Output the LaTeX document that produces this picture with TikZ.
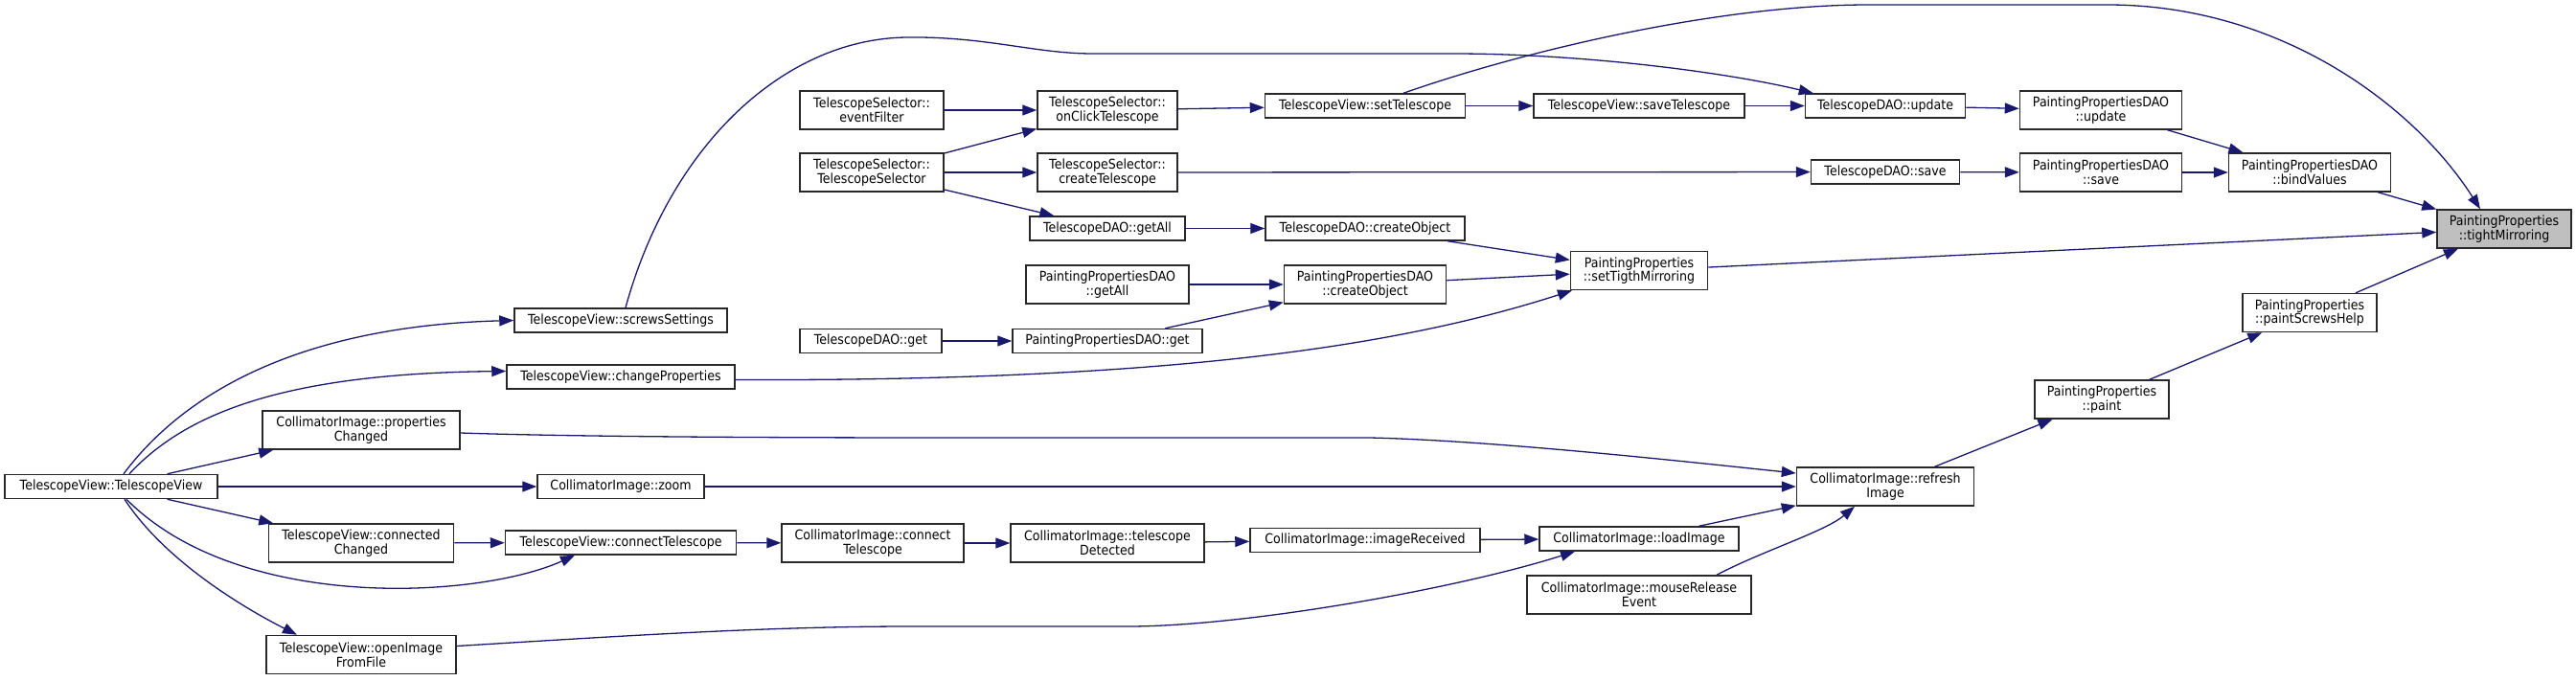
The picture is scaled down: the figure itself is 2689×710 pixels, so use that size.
\documentclass[tikz,border=0pt]{standalone}
\usepackage{fontspec}
\setmainfont{DejaVu Sans}[FakeStretch=0.9]
\usetikzlibrary{arrows.meta}
\definecolor{CallBlue}{RGB}{25,25,112}
\definecolor{FocusGray}{RGB}{191,191,191}
\definecolor{BoxLine}{RGB}{40,40,40}

\begin{document}
\begin{tikzpicture}[x=1pt,y=-1pt,
  fn/.style={draw=BoxLine,line width=1.5pt,fill=white,align=center,inner sep=2pt,
    minimum height=25pt,font=\fontsize{14}{14.7}\selectfont},
  call/.style={draw=CallBlue,line width=1.3pt,-{Triangle[length=15pt,width=11pt]}}]
  \useasboundingbox (0,0) rectangle (2689,710);

  % functions: name/x/y/width/height/label
  \foreach \n/\x/\y/\w/\h/\t in {
    tv/116/508/222/25/TelescopeView::TelescopeView,
    screws/648/334.5/222/25/TelescopeView::screwsSettings,
    chprop/648/393.5/238/25/TelescopeView::changeProperties,
    propch/377/449/206/40/CollimatorImage::properties\\Changed,
    zoom/648/508/174/25/CollimatorImage::zoom,
    connch/377/567/193/40/TelescopeView::connected\\Changed,
    conntv/648/566.5/241/25/TelescopeView::connectTelescope,
    openimg/377/683.5/198/40/TelescopeView::openImage\\FromFile,
    connci/911/567/190/40/CollimatorImage::connect\\Telescope,
    detected/1156/567/202/40/CollimatorImage::telescope\\Detected,
    imgrec/1425/564/240/25/CollimatorImage::imageReceived,
    loadimg/1711/562.5/208/25/CollimatorImage::loadImage,
    mouserel/1711/621/234/40/CollimatorImage::mouseRelease\\Event,
    refresh/1968/508/185/40/CollimatorImage::refresh\\Image,
    paint/2194/417/140/40/PaintingProperties\\::paint,
    screwshelp/2411/326.5/140/40/PaintingProperties\\::paintScrewsHelp,
    tsevent/910/115/150/40/TelescopeSelector::\\eventFilter,
    tsctor/910/180/150/40/TelescopeSelector::\\TelescopeSelector,
    onclick/1156/115/146/40/TelescopeSelector::\\onClickTelescope,
    create/1156/180/146/40/TelescopeSelector::\\createTelescope,
    settel/1425/110.5/209/25/TelescopeView::setTelescope,
    savetel/1711/110.5/220/25/TelescopeView::saveTelescope,
    tdgetall/1156/238.5/162/25/TelescopeDAO::getAll,
    tdcreate/1425/238.5/208/25/TelescopeDAO::createObject,
    ppgetall/1156/297/170/40/PaintingPropertiesDAO\\::getAll,
    ppcreate/1425/297/169/40/PaintingPropertiesDAO\\::createObject,
    settight/1711/282.5/143/40/PaintingProperties\\::setTigthMirroring,
    tdget/909/356/148/25/TelescopeDAO::get,
    ppget/1156/356/198/25/PaintingPropertiesDAO::get,
    tdupdate/1968/110.5/167/25/TelescopeDAO::update,
    ppupdate/2193/115/169/40/PaintingPropertiesDAO\\::update,
    tdsave/1968/179.5/155/25/TelescopeDAO::save,
    ppsave/2193/180/169/40/PaintingPropertiesDAO\\::save,
    bind/2411/180/169/40/PaintingPropertiesDAO\\::bindValues
  }{
    \node[fn,minimum width=\w pt,minimum height=\h pt] (\n) at (\x,\y) {\t};
  }
  \node[fn,fill=FocusGray,minimum width=140pt,minimum height=40pt] (tight) at (2614,239)
    {PaintingProperties\\::tightMirroring};

  % straight calls
  \foreach \a/\b in {tv/propch,tv/zoom,tv/connch,connch/conntv,conntv/connci,
    connci/detected,detected/imgrec,imgrec/loadimg,loadimg/refresh,zoom/refresh,
    refresh/paint,paint/screwshelp,screwshelp/tight,tsevent/onclick,tsctor/onclick,
    tsctor/create,tsctor/tdgetall,onclick/settel,settel/savetel,savetel/tdupdate,
    create/tdsave,tdgetall/tdcreate,tdcreate/settight,ppgetall/ppcreate,tdget/ppget,
    ppget/ppcreate,ppcreate/settight,settight/tight,tdupdate/ppupdate,tdsave/ppsave,
    ppupdate/bind,ppsave/bind,bind/tight}{
    \draw[call] (\a) -- (\b);
  }

  % curved calls
  \draw[call] ([xshift=13pt]tv.north) .. controls (200,400) and (330,340) .. (screws.west);
  \draw[call] ([xshift=19pt]tv.north) .. controls (195,430) and (300,390) .. ([yshift=6pt]chprop.west);
  \draw[call] ([xshift=14pt]tv.south) .. controls (175,590) and (265,640) .. ([xshift=-67pt]openimg.north);
  \draw[call] ([xshift=16pt]tv.south) .. controls (250,640) and (500,625) .. ([xshift=-48pt]conntv.south);
  \draw[call] ([yshift=9pt]openimg.east) .. controls (650,664) and (800,654) .. (950,654)
    -- (1177,654) .. controls (1300,654) and (1520,615) .. ([xshift=-67pt]loadimg.south);
  \draw[call] ([yshift=-3pt]propch.east) .. controls (600,456) and (800,457) .. (1000,457)
    -- (1430,457) .. controls (1560,460) and (1760,482) .. ([yshift=14pt]refresh.west);
  \draw[call] ([yshift=-3pt]chprop.east) .. controls (1200,398) and (1450,365) .. ([xshift=-70pt]settight.south);
  \draw[call] ([xshift=5pt]screws.north) .. controls (700,150) and (820,40) .. (947,39)
    .. controls (1030,38) and (1080,56) .. (1141,56) -- (1517,56)
    .. controls (1650,56) and (1800,75) .. ([xshift=9pt]tdupdate.north west);
  \draw[call] ([xshift=40pt]settel.north) .. controls (1600,50) and (1800,5) .. (1950,5)
    -- (2200,5) .. controls (2380,5) and (2520,110) .. ([xshift=-25pt]tight.north);
  \draw[call] ([xshift=81pt]mouserel.north) .. controls (1840,575) and (1905,555) .. ([xshift=-32pt]refresh.south);
\end{tikzpicture}
\end{document}
